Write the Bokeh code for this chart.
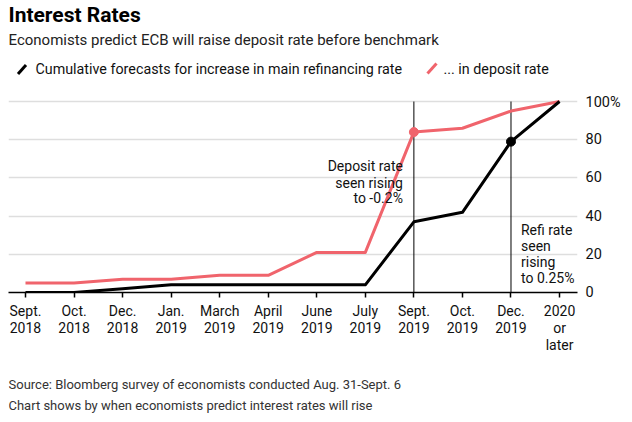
from bokeh.plotting import figure
from bokeh.layouts import column
from bokeh.models import Range1d, FixedTicker, Label
from bokeh.core.properties import value
from bokeh.embed import file_html
from bokeh.resources import INLINE

# ---- data ----
categories = ["Sept.\n2018", "Oct.\n2018", "Dec.\n2018", "Jan.\n2019", "March\n2019",
              "April\n2019", "June\n2019", "July\n2019", "Sept.\n2019", "Oct.\n2019",
              "Dec.\n2019", "2020\nor\nlater"]
refi = [0, 0, 2, 4, 4, 4, 4, 4, 37, 42, 79, 100]
deposit = [5, 5, 7, 7, 9, 9, 21, 21, 84, 86, 95, 100]
y_ticks = [0, 20, 40, 60, 80, 100]
y_tick_labels = ["0", "20", "40", "60", "80", "100%"]
dep_highlight = 8   # Sept. 2019
refi_highlight = 10  # Dec. 2019
dep_note = ["Deposit rate", "seen rising", "to -0.2%"]
dep_note_y = [66, 57.5, 49.5]
refi_note = ["Refi rate", "seen", "rising", "to 0.25%"]
refi_note_y = [32.5, 24.2, 15.8, 7.4]
title = "Interest Rates"
subtitle = "Economists predict ECB will raise deposit rate before benchmark"
legend_labels = ["Cumulative forecasts for increase in main refinancing rate", "... in deposit rate"]
footer = ["Source: Bloomberg survey of economists conducted Aug. 31-Sept. 6",
          "Chart shows by when economists predict interest rates will rise"]

RED = "#f0646c"
BLACK = "#000000"
FONT = "Roboto"
W = 632
FRAME_L, FRAME_R = 8, 577   # frame edges shared by all stacked figures


xs = list(range(len(categories)))


def blank_fig(h):
    # in a column, the frames are aligned with the main chart's frame,
    # so map the x range to page pixels of that frame
    f = figure(width=W, height=h, output_backend="svg", toolbar_location=None,
               x_range=Range1d(FRAME_L, FRAME_R), y_range=Range1d(h, 0),
               x_axis_location=None, y_axis_location=None,
               min_border_left=FRAME_L, min_border_right=W - FRAME_R,
               min_border_top=0, min_border_bottom=0)
    f.outline_line_color = None
    f.xgrid.grid_line_color = None
    f.ygrid.grid_line_color = None
    f.background_fill_color = "white"
    f.border_fill_color = "white"
    return f


def put_text(f, x, y, t, size, color="#111111", style="normal"):
    f.text(x=[x], y=[y], text=[t], text_align="left", text_baseline="middle",
           text_font=value(FONT), text_font_size=size, text_color=color,
           text_font_style=style)


# ---- header ----
hdr = blank_fig(93)
put_text(hdr, 8, 14, title, "21px", BLACK, "bold")
put_text(hdr, 8, 39.5, subtitle, "15px", "#222222")
put_text(hdr, 35, 68.5, legend_labels[0], "14.3px")
put_text(hdr, 443, 68.5, legend_labels[1], "14.3px")
hdr.segment(x0=[17.5, 427], y0=[73.5, 73], x1=[25.5, 436], y1=[64.5, 63],
            line_color=[BLACK, RED], line_width=3)

# ---- main chart ----
p = figure(frame_width=FRAME_R - FRAME_L, frame_height=199, output_backend="svg",
           toolbar_location=None,
           x_range=Range1d(-0.35, 11.37), y_range=Range1d(0, 104.2),
           y_axis_location="right",
           min_border_left=FRAME_L, min_border_right=W - FRAME_R,
           min_border_top=0, min_border_bottom=73)
p.outline_line_color = None
p.background_fill_color = "white"
p.border_fill_color = "white"

p.xgrid.grid_line_color = None
p.ygrid.ticker = FixedTicker(ticks=y_ticks)
p.ygrid.grid_line_color = "#dedede"
p.ygrid.grid_line_width = 1.5

ya = p.yaxis[0]
ya.ticker = FixedTicker(ticks=y_ticks)
ya.major_label_overrides = {t: l for t, l in zip(y_ticks, y_tick_labels)}
ya.axis_line_color = None
ya.major_tick_line_color = None
ya.minor_tick_line_color = None
ya.major_label_standoff = 2
ya.major_label_text_font = FONT
ya.major_label_text_font_size = "14.5px"
ya.major_label_text_color = "#111111"

xa = p.xaxis[0]
xa.ticker = FixedTicker(ticks=xs)
xa.major_label_overrides = {x: c for x, c in zip(xs, categories)}
xa.axis_line_color = BLACK
xa.axis_line_width = 1.5
xa.major_tick_line_color = BLACK
xa.major_tick_line_width = 1.5
xa.major_tick_in = 0
xa.major_tick_out = 5
xa.minor_tick_line_color = None
xa.major_label_standoff = 5
xa.major_label_text_font = FONT
xa.major_label_text_font_size = "14px"
xa.major_label_text_color = "#111111"
xa.major_label_text_line_height = 1.07

hl = [dep_highlight, refi_highlight]
p.segment(x0=hl, y0=[y_ticks[0]] * 2, x1=hl, y1=[y_ticks[-1]] * 2,
          line_color=BLACK, line_width=1)

p.line(xs, deposit, line_color=RED, line_width=3, line_join="round")
p.line(xs, refi, line_color=BLACK, line_width=3, line_join="round")
p.scatter([dep_highlight], [deposit[dep_highlight]], size=9, fill_color=RED, line_color=RED)
p.scatter([refi_highlight], [refi[refi_highlight]], size=9, fill_color=BLACK, line_color=BLACK)

for t, y in zip(dep_note, dep_note_y):
    p.add_layout(Label(x=dep_highlight, y=y, x_offset=-11, text=t, text_align="right",
                       text_baseline="middle", text_font=FONT, text_font_size="14px",
                       text_color="#111111"))
for t, y in zip(refi_note, refi_note_y):
    p.add_layout(Label(x=refi_highlight, y=y, x_offset=10, text=t, text_align="left",
                       text_baseline="middle", text_font=FONT, text_font_size="14px",
                       text_color="#111111"))

# ---- footer ----
ftr = blank_fig(57)
put_text(ftr, 8, 18.5, footer[0], "13px", "#333333")
put_text(ftr, 8, 39.5, footer[1], "13px", "#333333")

layout = column(hdr, p, ftr, spacing=0)
open("out.html", "w").write(file_html(layout, INLINE))
